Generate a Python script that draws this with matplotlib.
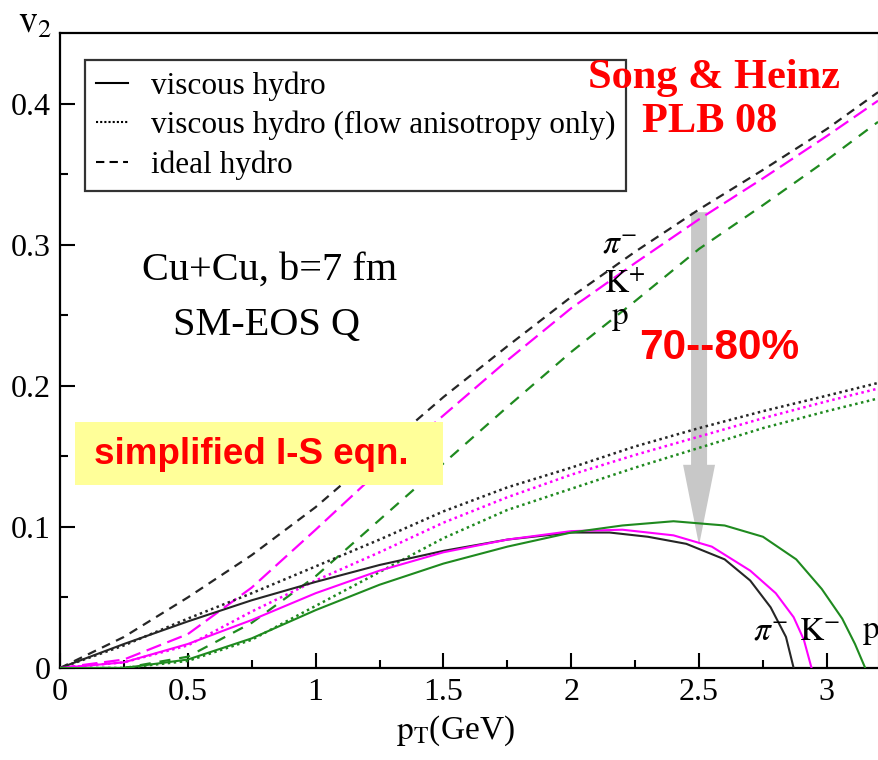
import numpy as np
import matplotlib
matplotlib.use("Agg")
import matplotlib.pyplot as plt
from matplotlib.lines import Line2D
from matplotlib.patches import Rectangle

plt.rcParams['font.family'] = ['Liberation Serif', 'DejaVu Serif']
plt.rcParams['mathtext.fontset'] = 'stix'

pt = [0, 0.25, 0.5, 0.75, 1.0, 1.25, 1.5, 1.75, 2.0, 2.25, 2.5, 2.75, 3.0, 3.2]

# ideal hydro (dashed)
ideal_pi = [0, 0.022, 0.050, 0.080, 0.114, 0.153, 0.192, 0.228, 0.263, 0.295, 0.325, 0.353, 0.382, 0.408]
ideal_K = [0, 0.006, 0.024, 0.057, 0.098, 0.140, 0.179, 0.218, 0.255, 0.287, 0.318, 0.347, 0.377, 0.402]
ideal_p = [0, 0.0, 0.008, 0.032, 0.065, 0.105, 0.145, 0.185, 0.224, 0.260, 0.297, 0.328, 0.360, 0.387]

# viscous hydro, flow anisotropy only (dotted)
flow_pi = [0, 0.016, 0.035, 0.053, 0.072, 0.091, 0.111, 0.128, 0.142, 0.157, 0.170, 0.182, 0.193, 0.202]
flow_K = [0, 0.004, 0.016, 0.040, 0.062, 0.082, 0.103, 0.121, 0.137, 0.151, 0.164, 0.177, 0.189, 0.198]
flow_p = [0, 0.0, 0.005, 0.020, 0.044, 0.068, 0.092, 0.112, 0.127, 0.142, 0.156, 0.170, 0.182, 0.191]

# viscous hydro (solid), each with its own pT points
visc_pi_pt = [0, 0.25, 0.5, 0.75, 1.0, 1.25, 1.5, 1.75, 2.0, 2.15, 2.3, 2.45, 2.6, 2.7, 2.78, 2.84, 2.87]
visc_pi = [0, 0.017, 0.033, 0.048, 0.061, 0.073, 0.083, 0.091, 0.096, 0.096, 0.093, 0.088, 0.077, 0.062, 0.043, 0.022, 0.0]
visc_K_pt = [0, 0.25, 0.5, 0.75, 1.0, 1.25, 1.5, 1.75, 2.0, 2.2, 2.4, 2.55, 2.7, 2.8, 2.87, 2.91, 2.94]
visc_K = [0, 0.004, 0.017, 0.034, 0.053, 0.069, 0.082, 0.091, 0.097, 0.098, 0.094, 0.086, 0.069, 0.053, 0.036, 0.020, 0.0]
visc_p_pt = [0, 0.25, 0.5, 0.75, 1.0, 1.25, 1.5, 1.75, 2.0, 2.2, 2.4, 2.6, 2.75, 2.88, 2.98, 3.06, 3.11, 3.15]
visc_p = [0, 0.0, 0.006, 0.021, 0.041, 0.059, 0.074, 0.086, 0.096, 0.101, 0.104, 0.101, 0.093, 0.077, 0.056, 0.035, 0.017, 0.0]

xticks = [0, 0.5, 1, 1.5, 2, 2.5, 3]
xtick_labels = ['0', '0.5', '1', '1.5', '2', '2.5', '3']
yticks = [0, 0.1, 0.2, 0.3, 0.4]
ytick_labels = ['0', '0.1', '0.2', '0.3', '0.4']

c_pi = '#262626'
c_K = '#ff00ff'
c_p = '#1f8a1f'

fig = plt.figure(figsize=(8.79, 7.6), dpi=100)
ax = fig.add_axes([60 / 879, 92 / 760, 818 / 879, 635 / 760])

# dashed ideal hydro
ax.plot(pt, ideal_pi, color=c_pi, lw=1.6, ls=(0, (4, 3)), zorder=3)
ax.plot(pt, ideal_K, color=c_K, lw=1.6, ls=(0, (7, 3)), zorder=3)
ax.plot(pt, ideal_p, color=c_p, lw=1.6, ls=(0, (5, 4)), zorder=3)

# dotted
ax.plot(pt, flow_pi, color=c_pi, lw=1.8, ls=(0, (1, 1.4)), zorder=3)
ax.plot(pt, flow_K, color=c_K, lw=1.8, ls=(0, (1, 1.4)), zorder=3)
ax.plot(pt, flow_p, color=c_p, lw=1.8, ls=(0, (1, 1.4)), zorder=3)

# solid
ax.plot(visc_pi_pt, visc_pi, color=c_pi, lw=1.5, zorder=3)
ax.plot(visc_K_pt, visc_K, color=c_K, lw=1.5, zorder=3)
ax.plot(visc_p_pt, visc_p, color=c_p, lw=1.5, zorder=3)

ax.set_xlim(0, 3.2)
ax.set_ylim(0, 0.45)
ax.set_xticks(xticks)
ax.set_xticklabels(xtick_labels)
ax.set_yticks(yticks)
ax.set_yticklabels(ytick_labels)
ax.set_xticks(np.arange(0.25, 3.2, 0.5), minor=True)
ax.set_yticks(np.arange(0.05, 0.45, 0.1), minor=True)
ax.tick_params(which='both', direction='in', width=1.5, labelsize=23, pad=7)
ax.tick_params(which='major', length=11)
ax.tick_params(which='minor', length=5.5)
for s in ['left', 'bottom', 'top']:
    ax.spines[s].set_linewidth(1.6)
ax.spines['right'].set_linewidth(0.8)
ax.spines['right'].set_color('#999999')

# grey arrow
ax.arrow(2.5, 0.323, 0, -0.236, width=0.0626, head_width=0.125, head_length=0.057,
         length_includes_head=True, color='#c8c8c8', lw=0, zorder=2)

# legend
handles = [Line2D([], [], color='k', lw=1.5),
           Line2D([], [], color='k', lw=1.5, ls=(0, (1, 1))),
           Line2D([], [], color='k', lw=1.5, ls=(0, (4, 2.5)))]
labels = ['viscous hydro', 'viscous hydro (flow anisotropy only)', 'ideal hydro']
leg = ax.legend(handles, labels, loc='upper left', bbox_to_anchor=(0.031, 0.957),
                fontsize=22.5, frameon=True, fancybox=False, handlelength=1.0,
                handletextpad=0.75, borderpad=0.35, labelspacing=0.32, borderaxespad=0)
leg.get_frame().set_edgecolor('k')
leg.get_frame().set_linewidth(1.6)

ax.text(0.82, 0.282, 'Cu+Cu, b=7 fm', fontsize=29, ha='center', va='center')
ax.text(0.81, 0.243, 'SM-EOS Q', fontsize=29, ha='center', va='center')

ax.text(2.56, 0.418, 'Song & Heinz', fontsize=30.5, fontweight='bold', color='red',
        ha='center', va='center', zorder=6)
ax.text(2.54, 0.387, 'PLB 08', fontsize=30.5, fontweight='bold', color='red',
        ha='center', va='center', zorder=6)
ax.text(2.58, 0.227, '70--80%', fontsize=30.5, fontweight='bold', color='red',
        family='Liberation Sans', ha='center', va='center', zorder=6)

ax.add_patch(Rectangle((0.059, 0.130), 1.439, 0.044, facecolor='#ffff99',
                       edgecolor='none', zorder=5))
ax.text(0.75, 0.151, 'simplified I-S eqn.', fontsize=26.5, fontweight='bold', color='red',
        family='Liberation Sans', ha='center', va='center', zorder=6)

# particle labels
ax.text(2.19, 0.300, r'$\pi^{-}$', fontsize=24, ha='center', va='center')
ax.text(2.21, 0.272, r'$\mathrm{K}^{+}$', fontsize=24, ha='center', va='center')
ax.text(2.19, 0.248, r'$\mathrm{p}$', fontsize=24, ha='center', va='center')
ax.text(2.78, 0.026, r'$\pi^{-}$', fontsize=24, ha='center', va='center')
ax.text(2.97, 0.026, r'$\mathrm{K}^{-}$', fontsize=24, ha='center', va='center')
ax.text(3.17, 0.026, r'$\mathrm{p}$', fontsize=24, ha='center', va='center')

fig.text(18 / 879, (760 - 33) / 760, r'$\mathrm{v}_2$', fontsize=27, ha='left', va='baseline')
fig.text(455 / 879, (760 - 739) / 760, r'$\mathrm{p}_\mathrm{T}$(GeV)', fontsize=24,
         ha='center', va='baseline')

fig.savefig('out.png', dpi=100)
